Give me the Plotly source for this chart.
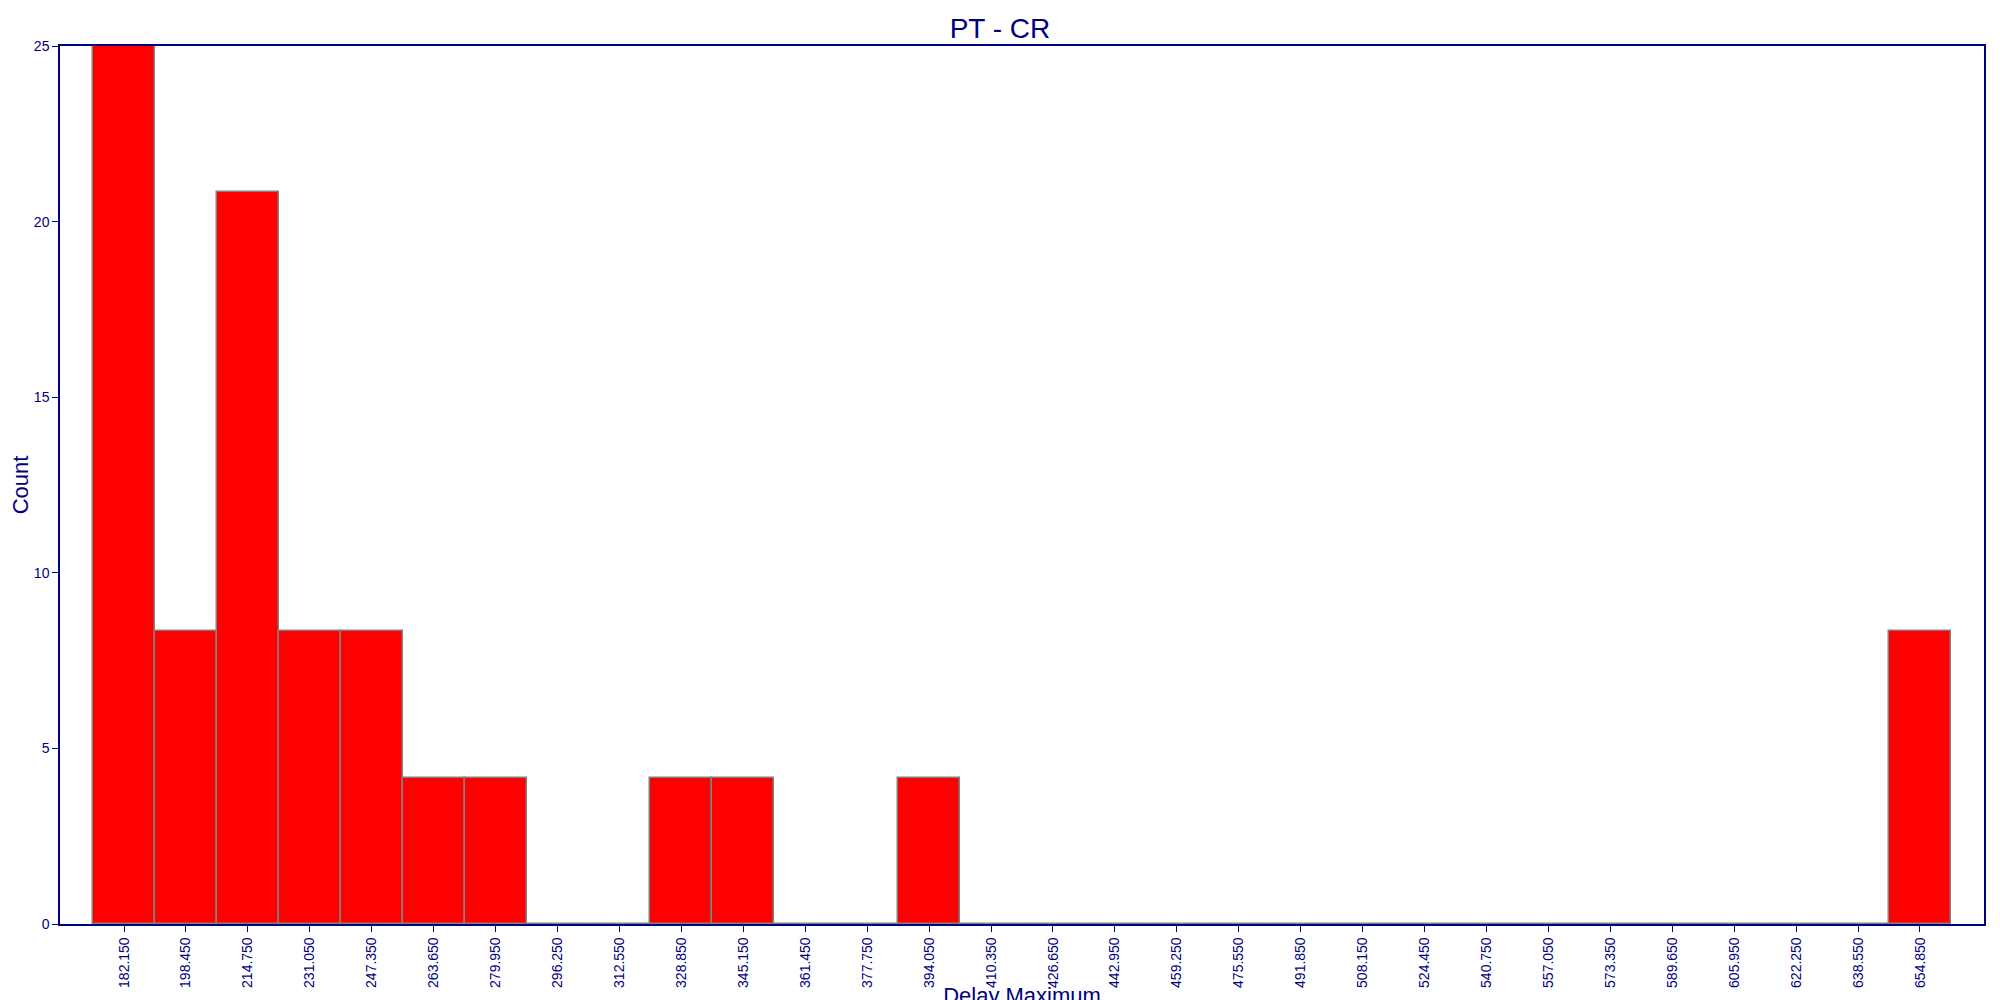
import plotly.graph_objects as go

# bin centres of the histogram and the count for each bin
bin_centres = [182.15 + 16.3 * i for i in range(30)]
tick_labels = ["%.3f" % c for c in bin_centres]
counts = [25, 8.33, 20.83, 8.33, 8.33, 4.17, 4.17, 0, 0, 4.17,
          4.17, 0, 0, 4.17, 0, 0, 0, 0, 0, 0,
          0, 0, 0, 0, 0, 0, 0, 0, 0, 8.33]

navy = "#00007f"

fig = go.Figure()
fig.add_trace(go.Bar(x=bin_centres, y=counts,
                     width=16.3,
                     marker_color="#ff0000",
                     marker_line=dict(color="#808080", width=1.5)))

fig.update_layout(
    autosize=True,
    margin=dict(l=52, r=8, t=38, b=84, autoexpand=False),
    plot_bgcolor="white", paper_bgcolor="white",
    font=dict(family="Liberation Sans, Arial", color=navy),
    showlegend=False,
    bargap=0,
    title={'text': "PT - CR", 'font_size': 28,
           'x': 0.5, 'xanchor': 'center', 'y': 0.99, 'yanchor': 'top'},
)
fig.update_xaxes(
    range=[165.3, 671.7],
    tickvals=bin_centres, ticktext=tick_labels, tickangle=-90,
    ticks="outside", ticklen=6, tickcolor=navy, tickfont_size=14,
    showgrid=False, zeroline=False, automargin=False,
    showline=True, linecolor=navy, linewidth=1.5, mirror=True,
    title=dict(text="Delay Maximum", font_size=22, standoff=6),
)
fig.update_yaxes(
    range=[0, 25], tickvals=[0, 5, 10, 15, 20, 25],
    ticks="outside", ticklen=6, tickcolor=navy, tickfont_size=14,
    showgrid=False, zeroline=False, automargin=False,
    showline=True, linecolor=navy, linewidth=1.5, mirror=True,
    title=dict(text="Count", font_size=22, standoff=4),
)

fig.write_html("out.html", default_width="100%", default_height="100vh")
